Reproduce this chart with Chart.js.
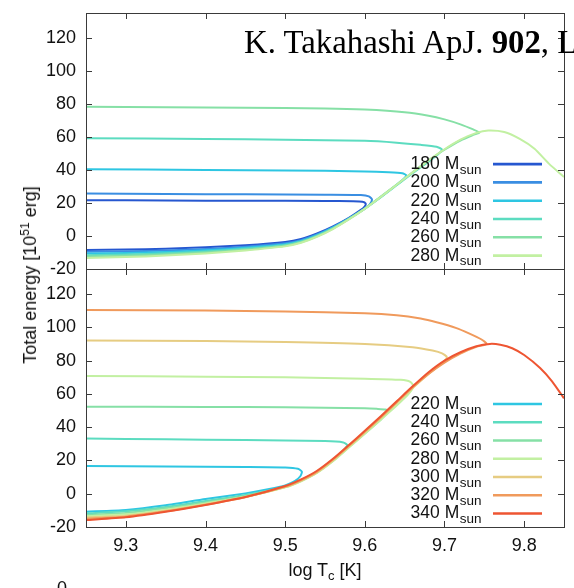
<!DOCTYPE html>
<html>
<head>
<meta charset="utf-8">
<script src="https://cdn.jsdelivr.net/npm/chart.js@4.4.1/dist/chart.umd.min.js"></script>
<style>
  body { margin: 0; background: #fff; width: 574px; height: 588px; overflow: hidden; position: relative;
         font-family: "Liberation Sans", Arial, sans-serif; color: #111; }
  canvas { position: absolute; left: 0; }
  #topc { top: 0; }
  #botc { top: 260px; }
  .txt { position: absolute; white-space: nowrap; line-height: 18px; font-size: 18px; }
  #hdr { left: 244px; top: 26px; font-family: "Liberation Serif", "Times New Roman", serif; font-size: 32.8px; line-height: 32px; color: #000; }
  #xt { left: 325px; top: 561px; transform: translateX(-50%); }
  #yt { left: 30px; top: 275px; transform: translate(-50%, -50%) rotate(-90deg); }
  sub { font-size: 13px; vertical-align: -4px; line-height: 0; }
  sup { font-size: 12px; vertical-align: 7px; line-height: 0; }
  #cut { left: 57px; top: 579px; }
</style>
</head>
<body>
<canvas id="topc" width="574" height="280"></canvas>
<canvas id="botc" width="574" height="328"></canvas>
<div id="hdr" class="txt">K. Takahashi ApJ. <b>902</b>, L</div>
<div id="yt" class="txt">Total energy [10<sup>51</sup> erg]</div>
<div id="xt" class="txt">log T<sub>c</sub> [K]</div>
<div id="cut" class="txt">0</div>
<script>
// axes
const xTicks = [9.3, 9.4, 9.5, 9.6, 9.7, 9.8];
const yTicks = [-20, 0, 20, 40, 60, 80, 100, 120];

// upper panel: masses 180-280
const topMasses = ['180', '200', '220', '240', '260', '280'];
const t180x = [9.25, 9.30, 9.35, 9.40, 9.45, 9.50, 9.52, 9.54, 9.56, 9.58, 9.595, 9.600, 9.601, 9.597, 9.585, 9.55, 9.45, 9.35, 9.25];
const t180y = [-8.5, -8.2, -7.7, -6.9, -5.6, -3.6, -1.8, 1.5, 5.8, 11.0, 15.8, 18.0, 19.6, 20.7, 21.0, 21.2, 21.3, 21.5, 21.7];
const t200x = [9.25, 9.30, 9.35, 9.40, 9.45, 9.50, 9.52, 9.54, 9.56, 9.58, 9.60, 9.606, 9.609, 9.605, 9.595, 9.55, 9.45, 9.35, 9.25];
const t200y = [-9.6, -9.3, -8.8, -7.9, -6.5, -4.4, -2.5, 0.9, 5.3, 10.6, 16.5, 19.0, 22.0, 24.0, 24.8, 25.0, 25.2, 25.4, 25.7];
const t220x = [9.25, 9.30, 9.35, 9.40, 9.45, 9.50, 9.52, 9.54, 9.56, 9.58, 9.60, 9.62, 9.64, 9.648, 9.652, 9.647, 9.63, 9.60, 9.50, 9.40, 9.25];
const t220y = [-10.6, -10.3, -9.7, -8.7, -7.2, -5.0, -3.0, 0.5, 5.0, 10.5, 16.6, 23.5, 31.0, 34.2, 36.8, 38.0, 38.6, 39.1, 39.7, 40.0, 40.4];
const t240x = [9.25, 9.30, 9.35, 9.40, 9.45, 9.50, 9.52, 9.54, 9.56, 9.58, 9.60, 9.62, 9.64, 9.66, 9.68, 9.692, 9.697, 9.69, 9.67, 9.64, 9.60, 9.50, 9.40, 9.25];
const t240y = [-11.6, -11.2, -10.5, -9.4, -7.8, -5.5, -3.4, 0.2, 4.8, 10.4, 16.6, 23.5, 30.8, 38.0, 45.0, 49.5, 52.3, 54.0, 55.2, 56.5, 57.6, 58.3, 58.7, 59.2];
const t260x = [9.25, 9.30, 9.35, 9.40, 9.45, 9.50, 9.52, 9.54, 9.56, 9.58, 9.60, 9.62, 9.64, 9.66, 9.68, 9.70, 9.72, 9.735, 9.744, 9.736, 9.72, 9.70, 9.68, 9.65, 9.60, 9.55, 9.45, 9.35, 9.25];
const t260y = [-12.5, -12.0, -11.2, -10.0, -8.3, -5.9, -3.8, -0.2, 4.5, 10.2, 16.6, 23.8, 31.2, 38.6, 45.8, 52.2, 57.8, 61.0, 62.6, 64.5, 67.6, 70.6, 72.8, 74.9, 76.5, 77.2, 77.7, 78.0, 78.3];
const t280x = [9.25, 9.30, 9.35, 9.40, 9.45, 9.50, 9.52, 9.54, 9.56, 9.58, 9.60, 9.62, 9.64, 9.66, 9.68, 9.70, 9.72, 9.74, 9.755, 9.775, 9.795, 9.813, 9.831, 9.85];
const t280y = [-13.4, -12.8, -11.9, -10.6, -8.8, -6.3, -4.1, -0.5, 4.2, 10.0, 16.4, 23.6, 31.0, 38.5, 45.8, 52.5, 58.3, 62.4, 63.8, 62.9, 58.6, 52.8, 43.8, 35.7];

// lower panel: masses 220-340
const botMasses = ['220', '240', '260', '280', '300', '320', '340'];
const b220x = [9.25, 9.30, 9.35, 9.40, 9.45, 9.48, 9.50, 9.512, 9.519, 9.521, 9.516, 9.50, 9.45, 9.35, 9.25];
const b220y = [-10.8, -9.8, -7.0, -3.2, 0.2, 2.8, 5.0, 7.5, 10.5, 13.2, 15.0, 15.8, 16.1, 16.4, 16.7];
const b240x = [9.25, 9.30, 9.35, 9.40, 9.45, 9.50, 9.52, 9.54, 9.56, 9.572, 9.578, 9.573, 9.55, 9.45, 9.35, 9.25];
const b240y = [-11.8, -10.6, -8.0, -4.4, -0.8, 4.2, 8.0, 13.0, 20.0, 25.5, 29.2, 30.8, 31.6, 32.2, 32.7, 33.1];
const b260x = [9.25, 9.30, 9.35, 9.40, 9.45, 9.50, 9.52, 9.54, 9.56, 9.58, 9.60, 9.62, 9.626, 9.630, 9.626, 9.615, 9.60, 9.50, 9.40, 9.25];
const b260y = [-12.8, -11.6, -8.8, -5.2, -1.3, 4.0, 7.8, 12.8, 19.8, 28.0, 36.2, 44.5, 47.5, 49.5, 50.6, 51.0, 51.3, 51.9, 52.1, 52.3];
const b280x = [9.25, 9.30, 9.35, 9.40, 9.45, 9.50, 9.52, 9.54, 9.56, 9.58, 9.60, 9.62, 9.64, 9.655, 9.661, 9.657, 9.645, 9.60, 9.50, 9.40, 9.25];
const b280y = [-13.5, -12.4, -9.6, -5.8, -1.8, 3.8, 7.5, 12.5, 19.5, 27.8, 36.0, 44.5, 53.0, 60.0, 64.5, 67.2, 68.4, 69.1, 69.9, 70.3, 70.7];
const b300x = [9.25, 9.30, 9.35, 9.40, 9.45, 9.50, 9.52, 9.54, 9.56, 9.58, 9.60, 9.62, 9.64, 9.66, 9.68, 9.697, 9.703, 9.697, 9.685, 9.66, 9.60, 9.50, 9.40, 9.25];
const b300y = [-14.3, -13.2, -10.2, -6.3, -2.0, 4.0, 7.8, 12.8, 20.0, 28.3, 36.8, 45.5, 54.5, 63.5, 72.0, 78.5, 82.0, 84.3, 86.0, 88.0, 90.0, 91.2, 91.7, 92.0];
const b320x = [9.25, 9.30, 9.35, 9.40, 9.45, 9.50, 9.52, 9.54, 9.56, 9.58, 9.60, 9.62, 9.64, 9.66, 9.68, 9.70, 9.72, 9.74, 9.753, 9.746, 9.73, 9.715, 9.69, 9.67, 9.64, 9.60, 9.50, 9.40, 9.25];
const b320y = [-15.0, -13.8, -10.6, -6.6, -2.1, 4.3, 8.2, 13.3, 20.5, 28.8, 37.3, 46.0, 55.0, 64.0, 72.0, 78.8, 84.2, 88.2, 90.0, 92.8, 96.5, 99.5, 103.0, 105.2, 107.2, 108.4, 109.5, 110.0, 110.3];
const b340x = [9.25, 9.30, 9.35, 9.40, 9.45, 9.50, 9.52, 9.54, 9.56, 9.58, 9.60, 9.62, 9.64, 9.66, 9.68, 9.70, 9.72, 9.74, 9.757, 9.77, 9.785, 9.80, 9.82, 9.835, 9.85];
const b340y = [-15.8, -14.2, -10.9, -6.8, -2.0, 4.6, 8.6, 13.8, 21.0, 29.3, 37.8, 46.5, 55.5, 64.5, 73.0, 80.0, 85.0, 88.6, 90.0, 89.5, 87.4, 83.3, 75.5, 67.5, 57.3];

const massColor = {
  '180': '#2657d0', '200': '#3a8ee2', '220': '#2ec6e2', '240': '#5cdcc0', '260': '#86e0a6',
  '280': '#c2f0a2', '300': '#e6cc82', '320': '#f09a5c', '340': '#ee5532'
};

Chart.defaults.font.family = '"Liberation Sans", Arial, sans-serif';

function series(label, xs, ys, i) {
  return {
    label: label,
    data: xs.map((x, k) => ({ x: x, y: ys[k] })),
    borderColor: massColor[label],
    backgroundColor: massColor[label],
    showLine: true,
    pointRadius: 0,
    borderWidth: 2,
    tension: 0.2,
    fill: false,
    order: -i
  };
}

// gnuplot-like frame, inward ticks and legend with subscripts
const deco = {
  id: 'deco',
  afterDatasetsDraw(chart, args, opts) {
    const ctx = chart.ctx, a = chart.chartArea, xs = chart.scales.x, ys = chart.scales.y;
    ctx.save();
    ctx.strokeStyle = '#3a3a3a';
    ctx.lineWidth = 1;
    ctx.beginPath();
    yTicks.forEach(v => {
      const p = Math.round(ys.getPixelForValue(v)) + 0.5;
      ctx.moveTo(a.left, p); ctx.lineTo(a.left + 6, p);
      ctx.moveTo(a.right, p); ctx.lineTo(a.right - 6, p);
    });
    xTicks.forEach(v => {
      const p = Math.round(xs.getPixelForValue(v)) + 0.5;
      ctx.moveTo(p, a.top); ctx.lineTo(p, a.top + 6);
      ctx.moveTo(p, a.bottom); ctx.lineTo(p, a.bottom - 6);
    });
    ctx.stroke();
    ctx.strokeRect(Math.round(a.left) + 0.5, Math.round(a.top) + 0.5, Math.round(a.right - a.left), Math.round(a.bottom - a.top));

    chart.data.datasets.forEach((ds, i) => {
      const cy = opts.rowY + i * opts.step;
      ctx.font = '17.5px "Liberation Sans", Arial, sans-serif';
      const main = ds.label + ' M';
      const w1 = ctx.measureText(main).width;
      ctx.font = '13.5px "Liberation Sans", Arial, sans-serif';
      const w2 = ctx.measureText('sun').width;
      const x0 = opts.textRight - w1 - w2;
      ctx.fillStyle = '#111';
      ctx.textBaseline = 'alphabetic';
      ctx.textAlign = 'left';
      ctx.font = '17.5px "Liberation Sans", Arial, sans-serif';
      ctx.fillText(main, x0, cy + 6.2);
      ctx.font = '13.5px "Liberation Sans", Arial, sans-serif';
      ctx.fillText('sun', x0 + w1 + 0.5, cy + 11);
      ctx.strokeStyle = ds.borderColor;
      ctx.lineWidth = 2.6;
      ctx.beginPath();
      ctx.moveTo(opts.lineFrom, cy + 1.3);
      ctx.lineTo(opts.lineTo, cy + 1.3);
      ctx.stroke();
    });
    ctx.restore();
  }
};

function yScale() {
  return {
    min: -20, max: 135,
    afterBuildTicks: s => { s.ticks = yTicks.map(v => ({ value: v })); },
    afterFit: s => { s.width = 86; s.paddingTop = 0; s.paddingBottom = 0; },
    grid: { display: false, drawTicks: false },
    border: { display: false },
    ticks: { padding: 10, color: '#111', font: { size: 18 } }
  };
}

new Chart(document.getElementById('topc'), {
  type: 'scatter',
  data: {
    datasets: [
      series(topMasses[0], t180x, t180y, 0),
      series(topMasses[1], t200x, t200y, 1),
      series(topMasses[2], t220x, t220y, 2),
      series(topMasses[3], t240x, t240y, 3),
      series(topMasses[4], t260x, t260y, 4),
      series(topMasses[5], t280x, t280y, 5)
    ]
  },
  options: {
    responsive: false,
    animation: false,
    layout: { padding: { left: 0, right: 10, top: 13, bottom: 11 } },
    plugins: {
      legend: { display: false },
      tooltip: { enabled: false },
      deco: { rowY: 162.8, step: 18.3, textRight: 481, lineFrom: 493, lineTo: 542 }
    },
    scales: {
      x: { type: 'linear', min: 9.25, max: 9.85, display: false },
      y: yScale()
    }
  },
  plugins: [deco]
});

new Chart(document.getElementById('botc'), {
  type: 'scatter',
  data: {
    datasets: [
      series(botMasses[0], b220x, b220y, 0),
      series(botMasses[1], b240x, b240y, 1),
      series(botMasses[2], b260x, b260y, 2),
      series(botMasses[3], b280x, b280y, 3),
      series(botMasses[4], b300x, b300y, 4),
      series(botMasses[5], b320x, b320y, 5),
      series(botMasses[6], b340x, b340y, 6)
    ]
  },
  options: {
    responsive: false,
    animation: false,
    layout: { padding: { left: 0, right: 10, top: 9, bottom: 0 } },
    plugins: {
      legend: { display: false },
      tooltip: { enabled: false },
      deco: { rowY: 142.7, step: 18.25, textRight: 481, lineFrom: 493, lineTo: 542 }
    },
    scales: {
      x: {
        type: 'linear', min: 9.25, max: 9.85,
        afterBuildTicks: s => { s.ticks = xTicks.map(v => ({ value: v })); },
        afterFit: s => { s.height = 61; s.paddingLeft = 0; s.paddingRight = 0; },
        grid: { display: false, drawTicks: false },
        border: { display: false },
        ticks: { padding: 8, color: '#111', font: { size: 18 }, maxRotation: 0, autoSkip: false,
                 callback: v => v.toFixed(1) }
      },
      y: yScale()
    }
  },
  plugins: [deco]
});
</script>
</body>
</html>
